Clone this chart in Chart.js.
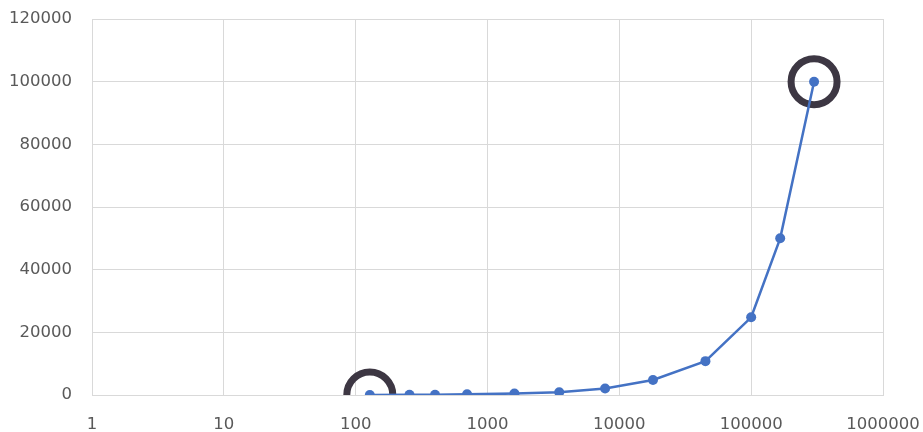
<!DOCTYPE html>
<html>
<head>
<meta charset="utf-8">
<script src="https://cdn.jsdelivr.net/npm/chart.js@4/dist/chart.umd.min.js"></script>
<style>
  html, body { margin: 0; padding: 0; background: #fff; }
  #wrap { width: 923px; height: 432px; position: relative; }
</style>
</head>
<body>
<div id="wrap"><canvas id="chart"></canvas></div>
<script>
// values
const xValues = [128, 256, 400, 700, 1600, 3500, 7800, 18000, 45000, 100000, 166000, 300000];
const yValues = [0, 50, 100, 200, 450, 900, 2100, 4800, 10800, 24800, 50000, 100000];
const highlighted = [0, 11];
const xTicks = [1, 10, 100, 1000, 10000, 100000, 1000000];
const yTicks = [0, 20000, 40000, 60000, 80000, 100000, 120000];

const blue = "#4472c4";
const grid = "#d9d9d9";
const textColor = "#595959";
const font = { family: "DejaVu Sans", size: 16.5 };

const points = xValues.map((x, i) => ({ x, y: yValues[i] }));
const marks = highlighted.map((i) => points[i]);

new Chart(document.getElementById("chart"), {
  type: "line",
  data: {
    datasets: [
      {
        data: points,
        borderColor: blue,
        backgroundColor: blue,
        borderWidth: 2.5,
        pointRadius: 5,
        pointBorderWidth: 0,
        pointHoverRadius: 5,
        tension: 0,
      },
      {
        data: marks,
        showLine: false,
        pointRadius: 23,
        pointBorderWidth: 7,
        pointBorderColor: "#3d3743",
        pointBackgroundColor: "rgba(0,0,0,0)",
        pointHoverRadius: 23,
      },
    ],
  },
  options: {
    responsive: true,
    maintainAspectRatio: false,
    animation: false,
    layout: { autoPadding: false, padding: { top: 19, right: 40, bottom: 0, left: 0 } },
    plugins: { legend: { display: false }, tooltip: { enabled: false } },
    scales: {
      x: {
        type: "logarithmic",
        min: 1,
        max: 1000000,
        afterBuildTicks: (scale) => {
          scale.ticks = xTicks.map((value) => ({ value }));
        },
        afterFit: (scale) => {
          scale.height = 37;
          scale.paddingLeft = 0;
          scale.paddingRight = 0;
        },
        grid: { color: grid, lineWidth: 1, drawTicks: false },
        border: { color: grid },
        ticks: {
          color: textColor,
          font,
          padding: 20,
          maxRotation: 0,
          autoSkip: false,
          callback: (value) => String(value),
        },
      },
      y: {
        min: 0,
        max: 120000,
        afterBuildTicks: (scale) => {
          scale.ticks = yTicks.map((value) => ({ value }));
        },
        afterFit: (scale) => {
          scale.width = 92;
          scale.paddingTop = 0;
          scale.paddingBottom = 0;
        },
        grid: { color: grid, lineWidth: 1, drawTicks: false },
        border: { color: grid },
        ticks: {
          color: textColor,
          font,
          padding: 20,
          callback: (value) => String(value),
        },
      },
    },
  },
});
</script>
</body>
</html>
